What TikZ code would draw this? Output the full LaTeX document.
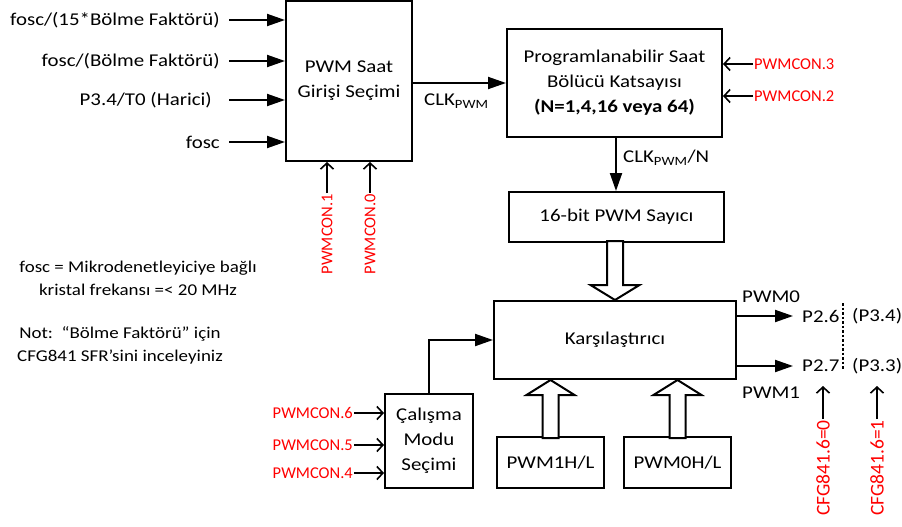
\documentclass[tikz,border=0pt]{standalone}
\usepackage{fontspec}
\setmainfont{Carlito}[FakeStretch=1.16]
\newfontfamily\redfont{Carlito}
\newfontfamily\notefont{Carlito}[FakeStretch=1.15]
\usetikzlibrary{arrows.meta,calc}
\definecolor{lblred}{RGB}{255,0,0}
\begin{document}
\begin{tikzpicture}[x=1pt,y=-1pt,
  font=\fontsize{18}{25}\selectfont,
  box/.style={draw,line width=2pt,align=center,inner sep=0pt},
  arr/.style={line width=2pt,-{Triangle[length=18pt,width=12pt]}},
  oarr/.style={line width=1.6pt,-{Straight Barb[length=6pt,width=13pt]}},
  rlbl/.style={text=lblred,inner sep=1pt,font=\redfont\fontsize{16.5}{20}\selectfont},
  cfglbl/.style={text=lblred,inner sep=1pt,font=\redfont\fontsize{19.5}{22}\selectfont},
  hollow/.style={draw,line width=2pt,fill=white,line join=miter},
  txt/.style={inner sep=1pt}
]
\path[use as bounding box] (0,0) rectangle (902,527);

% main boxes
\node[box,minimum width=126pt,minimum height=160pt] (sel) at (349,81) {PWM Saat\\Girişi Seçimi};
\node[box,minimum width=215pt,minimum height=108pt] (prog) at (614.5,83) {Programlanabilir Saat\\Bölücü Katsayısı\\\textbf{(N=1,4,16 veya 64)}};
\node[box,minimum width=215pt,minimum height=50pt] (cnt) at (616.5,217) {16-bit PWM Sayıcı};
\node[box,minimum width=242pt,minimum height=78pt] (cmp) at (615,340) {Karşılaştırıcı};
\node[box,minimum width=107pt,minimum height=51pt] (p1) at (550.5,462.5) {PWM1H/L};
\node[box,minimum width=107pt,minimum height=51pt] (p0) at (677.5,462.5) {PWM0H/L};
\node[box,minimum width=88pt,minimum height=94pt] (mode) at (429,441) {Çalışma\\Modu\\Seçimi};

% inputs to selector
\node[txt,anchor=east] (i1) at (221,20) {fosc/(15*Bölme Faktörü)};
\node[txt,anchor=east] (i2) at (221,61) {fosc/(Bölme Faktörü)};
\node[txt,anchor=east] (i3) at (213,100) {P3.4/T0 (Harici)};
\node[txt,anchor=east] (i4) at (221,142) {fosc};
\coordinate (s1) at (229,20);
\coordinate (s2) at (229,61);
\coordinate (s3) at (229,100);
\coordinate (s4) at (229,142);
\foreach \s in {s1,s2,s3,s4} \draw[arr] (\s) -- (\s -| sel.west);

% selector control
\node[rlbl,rotate=90,anchor=east] (c1) at (327,193) {PWMCON.1};
\node[rlbl,rotate=90,anchor=east] (c0) at (370,193) {PWMCON.0};
\draw[oarr] (c1.east) -- (c1.east |- sel.south);
\draw[oarr] (c0.east) -- (c0.east |- sel.south);

% CLK_PWM
\draw[arr] (sel.east |- prog.west) -- (prog.west);
\node[txt,anchor=west] (clk) at (423,101) {CLK\textsubscript{PWM}};

% prescaler controls
\node[rlbl,anchor=west] (r3) at (753,64) {PWMCON.3};
\node[rlbl,anchor=west] (r2) at (753,96) {PWMCON.2};
\draw[oarr] (r3.west) -- (r3.west -| prog.east);
\draw[oarr] (r2.west) -- (r2.west -| prog.east);

% prog -> counter
\draw[arr] (prog.south -| 616,0) -- (cnt.north -| 616,0);
\node[txt,anchor=west] (clkn) at (622,158) {CLK\textsubscript{PWM}/N};

% hollow arrow counter -> comparator
\draw[hollow] (cmp.north) -- ++(-24.5,-15) -- ++(16.5,0) -- ++(0,-44) -- ++(16,0) -- ++(0,44) -- ++(16.5,0) -- cycle;
% hollow arrows registers -> comparator
\draw[hollow] (p1.north |- cmp.south) -- ++(24,15) -- ++(-16,0) -- ++(0,43) -- ++(-16,0) -- ++(0,-43) -- ++(-16,0) -- cycle;
\draw[hollow] (p0.north |- cmp.south) -- ++(24,15) -- ++(-16,0) -- ++(0,43) -- ++(-16,0) -- ++(0,-43) -- ++(-16,0) -- cycle;

% mode selection
\draw[arr] (mode.north) |- (cmp.west);
\node[rlbl,anchor=east] (m6) at (354,413) {PWMCON.6};
\node[rlbl,anchor=east] (m5) at (354,445) {PWMCON.5};
\node[rlbl,anchor=east] (m4) at (354,473) {PWMCON.4};
\foreach \m in {m6,m5,m4} \draw[oarr] (\m.east) -- (\m.east -| mode.west);

% outputs
\node[txt,anchor=west] (p26) at (801,316) {P2.6};
\node[txt,anchor=west] (p27) at (801,366) {P2.7};
\node[txt,anchor=west] (p34) at (851,316) {(P3.4)};
\node[txt,anchor=west] (p33) at (851,366) {(P3.3)};
\draw[arr] (p26.west -| cmp.east) -- ([xshift=-8pt]p26.west);
\draw[arr] (p27.west -| cmp.east) -- ([xshift=-8pt]p27.west);
\node[txt,anchor=west] (pwm0) at (741,297) {PWM0};
\node[txt,anchor=west] (pwm1) at (741,393) {PWM1};
\coordinate (d1) at (843,303);
\coordinate (d2) at (843,370);
\draw[dash pattern=on 2.5pt off 2pt,line width=1.6pt] (d1) -- (d2);

% CFG selections
\node[cfglbl,rotate=90,anchor=east] (g0) at (823,419) {CFG841.6=0};
\node[cfglbl,rotate=90,anchor=east] (g1) at (877,419) {CFG841.6=1};
\draw[oarr] (g0.east) -- ++(0,-33);
\draw[oarr] (g1.east) -- ++(0,-33);

% notes
\node[txt,align=center,font=\notefont\fontsize{16.5}{23}\selectfont] (n1) at (138,278.5) {fosc = Mikrodenetleyiciye bağlı\\kristal frekansı =< 20 MHz};
\node[txt,align=center,font=\notefont\fontsize{16.5}{23}\selectfont] (n2) at (120,345.5) {Not:~~“Bölme Faktörü” için\\CFG841 SFR’sini inceleyiniz};
\end{tikzpicture}
\end{document}
